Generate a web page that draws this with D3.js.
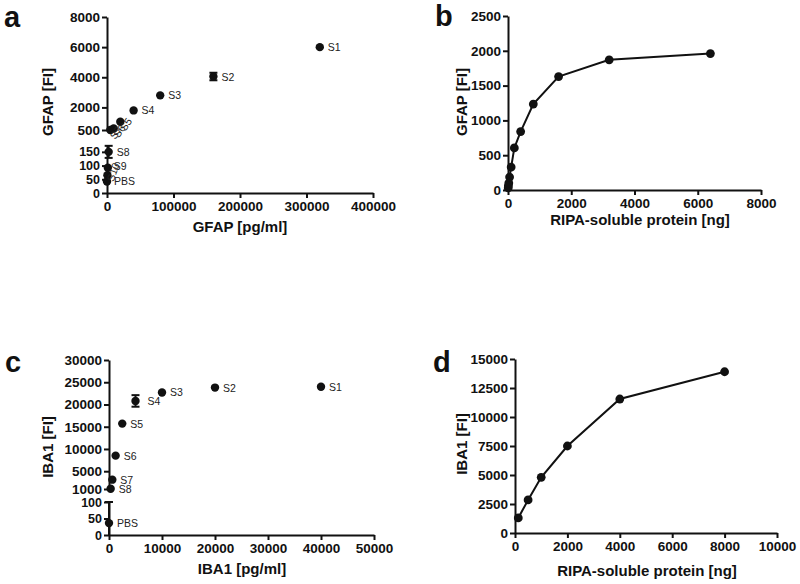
<!DOCTYPE html>
<html>
<head>
<meta charset="utf-8">
<script src="https://cdn.jsdelivr.net/npm/d3@7/dist/d3.min.js"></script>
<style>
  html, body { margin: 0; padding: 0; background: #fff; }
  svg { display: block; font-family: "Liberation Sans", Arial, sans-serif; }
  .tick text { font-size: 13.5px; font-weight: bold; fill: #111; }
  .lo .tick text { font-size: 12.5px; }
  .axis path, .axis line { stroke: #111; stroke-width: 2; }
  .title { font-size: 15px; font-weight: bold; fill: #111; }
  .letter { font-size: 29px; font-weight: bold; fill: #111; }
  .lbl { font-size: 10.5px; fill: #222; }
</style>
</head>
<body>
<svg id="chart" width="800" height="584"></svg>
<script>
// ---------- Data ----------
// panel a: GFAP standards
const gfapLabels = ['S1', 'S2', 'S3', 'S4', 'S5', 'S6', 'S7', 'S8', 'S9', 'S10', 'PBS'];
const gfapConc   = [320000, 160000, 80000, 40000, 20000, 10000, 5000, 2500, 1250, 625, 0];
const gfapFI     = [6000, 4050, 2800, 1800, 1050, 600, 500, 150, 92, 65, 42];
const gfapErr    = [0, 250, 0, 0, 0, 0, 0, 22, 0, 0, 0];
const gfapYTicksHi = [500, 2000, 4000, 6000, 8000];
const gfapYTicksLo = [0, 50, 100, 150];
const gfapXTicks   = [0, 100000, 200000, 300000, 400000];

// panel b: GFAP vs RIPA-soluble protein
const gfapProtein = [6.25, 12.5, 25, 50, 100, 200, 400, 800, 1600, 3200, 6400];
const gfapProtFI  = [30, 60, 100, 185, 330, 605, 840, 1235, 1630, 1870, 1960];
const bYTicks = [0, 500, 1000, 1500, 2000, 2500];
const bXTicks = [0, 2000, 4000, 6000, 8000];

// panel c: IBA1 standards
const ibaLabels = ['S1', 'S2', 'S3', 'S4', 'S5', 'S6', 'S7', 'S8', 'PBS'];
const ibaConc   = [40000, 20000, 10000, 5000, 2500, 1250, 625, 312.5, 0];
const ibaFI     = [24000, 23800, 22700, 20800, 15700, 8500, 3100, 1050, 36];
const ibaErr    = [0, 0, 0, 1300, 0, 0, 0, 0, 64];
const ibaYTicksHi = [1000, 5000, 10000, 15000, 20000, 25000, 30000];
const ibaYTicksLo = [0, 50, 100];
const ibaXTicks   = [0, 10000, 20000, 30000, 40000, 50000];

// panel d: IBA1 vs RIPA-soluble protein
const ibaProtein = [125, 500, 1000, 2000, 4000, 8000];
const ibaProtFI  = [1300, 2850, 4800, 7500, 11550, 13900];
const dYTicks = [0, 2500, 5000, 7500, 10000, 12500, 15000];
const dXTicks = [0, 2000, 4000, 6000, 8000, 10000];

// ---------- Helpers ----------
const svg = d3.select('#chart');
svg.append('rect').attr('width', 800).attr('height', 584).attr('fill', '#fff');
const fmt = d3.format('d');

function axisLeft(g, scale, ticks, x, cls) {
  g.append('g').attr('class', 'axis ' + (cls || '')).attr('transform', `translate(${x},0)`)
    .call(d3.axisLeft(scale).tickValues(ticks).tickFormat(fmt).tickSize(5).tickSizeOuter(0).tickPadding(2));
}
function axisBottom(g, scale, ticks, y) {
  g.append('g').attr('class', 'axis').attr('transform', `translate(0,${y})`)
    .call(d3.axisBottom(scale).tickValues(ticks).tickFormat(fmt).tickSize(5).tickSizeOuter(0).tickPadding(3));
}
function yTitle(text, x, y) {
  svg.append('text').attr('class', 'title').attr('text-anchor', 'middle')
    .attr('transform', `translate(${x},${y}) rotate(-90)`).text(text);
}
function xTitle(text, x, y) {
  svg.append('text').attr('class', 'title').attr('text-anchor', 'middle')
    .attr('x', x).attr('y', y).text(text);
}
function letter(t, x, y) {
  svg.append('text').attr('class', 'letter').attr('x', x).attr('y', y).text(t);
}

// scatter on a broken y axis (upper part for big values, lower part for small)
function brokenScatter(opt) {
  const { labels, xs, ys, errs, x, yHi, yLo, cut, lblStyle } = opt;
  const g = svg.append('g');
  const yOf = (v) => (v >= cut ? yHi(v) : yLo(Math.max(v, yLo.domain()[0])));
  const clampV = (v, ref) => {
    if (ref >= cut) return Math.max(Math.min(v, yHi.domain()[1]), yHi.domain()[0]);
    return Math.max(Math.min(v, yLo.domain()[1]), yLo.domain()[0]);
  };
  const pts = labels.map((l, i) => ({ l, x: xs[i], y: ys[i], e: errs[i] }));

  const eb = g.selectAll('g.err').data(pts.filter(d => d.e > 0)).join('g').attr('class', 'err')
    .attr('stroke', '#111').attr('stroke-width', 2);
  eb.append('line')
    .attr('x1', d => x(d.x)).attr('x2', d => x(d.x))
    .attr('y1', d => yOf(clampV(d.y - d.e, d.y))).attr('y2', d => yOf(clampV(d.y + d.e, d.y)));
  [1, -1].forEach(s => {
    eb.filter(d => clampV(d.y + s * d.e, d.y) === d.y + s * d.e).append('line')
      .attr('x1', d => x(d.x) - 4).attr('x2', d => x(d.x) + 4)
      .attr('y1', d => yOf(d.y + s * d.e)).attr('y2', d => yOf(d.y + s * d.e));
  });

  g.selectAll('circle').data(pts).join('circle')
    .attr('cx', d => x(d.x)).attr('cy', d => yOf(d.y)).attr('r', 4.2).attr('fill', '#111');

  g.selectAll('text.lbl').data(pts).join('text').attr('class', 'lbl')
    .attr('transform', d => {
      const s = lblStyle[d.l] || { dx: 8, dy: 4, rot: 0 };
      return `translate(${x(d.x) + s.dx},${yOf(d.y) + s.dy}) rotate(${s.rot})`;
    })
    .text(d => d.l);
}

function lineChart(opt) {
  const { xs, ys, x, y } = opt;
  const g = svg.append('g');
  const pts = xs.map((v, i) => [v, ys[i]]);
  g.append('path').datum(pts).attr('fill', 'none').attr('stroke', '#111').attr('stroke-width', 2)
    .attr('d', d3.line().x(d => x(d[0])).y(d => y(d[1])));
  g.selectAll('circle').data(pts).join('circle')
    .attr('cx', d => x(d[0])).attr('cy', d => y(d[1])).attr('r', 4.4).attr('fill', '#111');
}

// ---------- Panel a ----------
{
  const x = d3.scaleLinear().domain([0, 400000]).range([107, 373]);
  const yHi = d3.scaleLinear().domain([500, 8000]).range([130, 17]);
  const yLo = d3.scaleLinear().domain([0, 175]).range([193, 145]);
  const g = svg.append('g');
  axisLeft(g, yHi, gfapYTicksHi, 107);
  axisLeft(g, yLo, gfapYTicksLo, 107, 'lo');
  axisBottom(g, x, gfapXTicks, 193);
  brokenScatter({
    labels: gfapLabels, xs: gfapConc, ys: gfapFI, errs: gfapErr, x, yHi, yLo, cut: 500,
    lblStyle: {
      S5: { dx: 5, dy: 10, rot: -55 },
      S6: { dx: 5, dy: 10, rot: -55 },
      S7: { dx: 5, dy: 10, rot: -55 },
      S9: { dx: 6, dy: 2, rot: 0 },
      S10: { dx: 6, dy: 7, rot: -70 },
      PBS: { dx: 7, dy: 4, rot: 0 }
    }
  });
  yTitle('GFAP [FI]', 53, 102);
  xTitle('GFAP [pg/ml]', 240, 232);
  letter('a', 4, 27);
}

// ---------- Panel b ----------
{
  const x = d3.scaleLinear().domain([0, 8000]).range([508, 761]);
  const y = d3.scaleLinear().domain([0, 2500]).range([190, 16]);
  const g = svg.append('g');
  axisLeft(g, y, bYTicks, 508);
  axisBottom(g, x, bXTicks, 190);
  lineChart({ xs: gfapProtein, ys: gfapProtFI, x, y });
  yTitle('GFAP [FI]', 467, 102);
  xTitle('RIPA-soluble protein [ng]', 640, 225);
  letter('b', 435, 26);
}

// ---------- Panel c ----------
{
  const x = d3.scaleLinear().domain([0, 50000]).range([109, 374]);
  const yHi = d3.scaleLinear().domain([1000, 30000]).range([489, 360]);
  const yLo = d3.scaleLinear().domain([0, 100]).range([535, 502]);
  const g = svg.append('g');
  axisLeft(g, yHi, ibaYTicksHi, 109);
  axisLeft(g, yLo, ibaYTicksLo, 109, 'lo');
  axisBottom(g, x, ibaXTicks, 535);
  brokenScatter({
    labels: ibaLabels, xs: ibaConc, ys: ibaFI, errs: ibaErr, x, yHi, yLo, cut: 1000,
    lblStyle: { S4: { dx: 12, dy: 4, rot: 0 }, PBS: { dx: 8, dy: 4, rot: 0 } }
  });
  yTitle('IBA1 [FI]', 53, 447);
  xTitle('IBA1 [pg/ml]', 242, 574);
  letter('c', 5, 372);
}

// ---------- Panel d ----------
{
  const x = d3.scaleLinear().domain([0, 10000]).range([515, 777]);
  const y = d3.scaleLinear().domain([0, 15000]).range([533, 359]);
  const g = svg.append('g');
  axisLeft(g, y, dYTicks, 515);
  axisBottom(g, x, dXTicks, 533);
  lineChart({ xs: ibaProtein, ys: ibaProtFI, x, y });
  yTitle('IBA1 [FI]', 467, 444);
  xTitle('RIPA-soluble protein [ng]', 647, 576);
  letter('d', 433, 372);
}
</script>
</body>
</html>
